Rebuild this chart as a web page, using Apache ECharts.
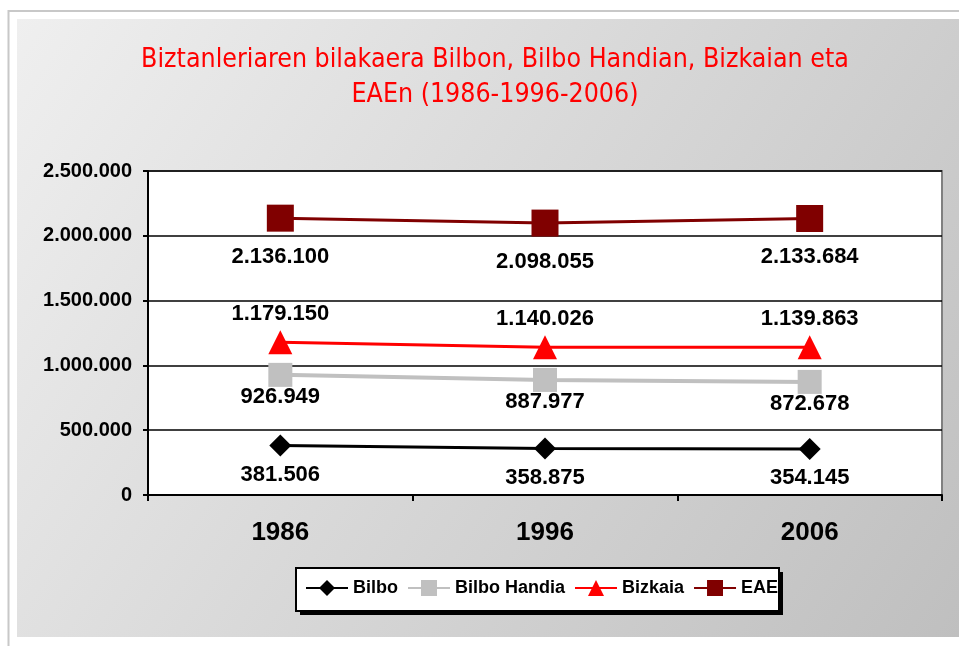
<!DOCTYPE html>
<html>
<head>
<meta charset="utf-8">
<script src="https://cdn.jsdelivr.net/npm/echarts@6/dist/echarts.min.js"></script>
<style>
	html, body { margin: 0; padding: 0; background: #fff; }
	#chart { width: 959px; height: 646px; }
</style>
</head>
<body>
<div id="chart"></div>
<script>
// datuak
var years = ['1986', '1996', '2006'];
var bilbo = [381506, 358875, 354145];
var bilboHandia = [926949, 887977, 872678];
var bizkaia = [1179150, 1140026, 1139863];
var eae = [2136100, 2098055, 2133684];
var seriesNames = ['Bilbo', 'Bilbo Handia', 'Bizkaia', 'EAE'];

function milaka(v) {
	return String(v).replace(/\B(?=(\d{3})+(?!\d))/g, '.');
}

var myChart = echarts.init(document.getElementById('chart'));

var labelBase = {
	show: true,
	color: '#000',
	fontFamily: 'Arial, "Liberation Sans", sans-serif',
	fontWeight: 'bold',
	fontSize: 22,
	formatter: function (p) { return milaka(p.value); }
};

function makeSeries(name, data, color, symbol, size, width, pos, dist) {
	return {
		name: name,
		type: 'line',
		data: data,
		symbol: symbol,
		symbolSize: size,
		lineStyle: { color: color, width: width },
		itemStyle: { color: color },
		label: Object.assign({}, labelBase, { position: pos, distance: dist }),
		animation: false
	};
}

var option = {
	backgroundColor: '#fff',
	graphic: [
		// kanpoko ertza
		{
			type: 'rect',
			z: -100,
			shape: { x: 8.5, y: 11, width: 960, height: 640 },
			style: { fill: '#fff', stroke: '#c8c8c8', lineWidth: 2 }
		},
		// atzeko gradientea
		{
			type: 'rect',
			z: -90,
			shape: { x: 17, y: 19, width: 942, height: 618 },
			style: {
				fill: new echarts.graphic.LinearGradient(0, 0, 1, 1, [
					{ offset: 0, color: '#efefef' },
					{ offset: 1, color: '#bfbfbf' }
				])
			}
		},
		// izenburua
		{
			type: 'text',
			x: 495,
			y: 43,
			style: {
				text: 'Biztanleriaren bilakaera Bilbon, Bilbo Handian, Bizkaian eta\nEAEn (1986-1996-2006)',
				align: 'center',
				fill: '#ff0000',
				font: '26.5px "Liberation Sans Narrow", "DejaVu Sans Condensed", sans-serif',
				lineHeight: 35
			}
		},
		// legendaren itzala eta kutxa
		{
			type: 'rect',
			z: 1,
			shape: { x: 300, y: 572, width: 483, height: 43 },
			style: { fill: '#000' }
		},
		{
			type: 'rect',
			z: 2,
			shape: { x: 296, y: 568, width: 483, height: 43 },
			style: { fill: '#fff', stroke: '#000', lineWidth: 2 }
		}
	],
	grid: {
		left: 148,
		top: 171,
		right: 17,
		bottom: 151,
		show: true,
		backgroundColor: '#fff',
		borderColor: '#808080',
		borderWidth: 2
	},
	legend: {
		data: seriesNames,
		left: 305,
		top: 579,
		orient: 'horizontal',
		padding: 0,
		itemWidth: 42,
		itemHeight: 20,
		itemGap: 9,
		textStyle: {
			color: '#000',
			fontFamily: 'Arial, "Liberation Sans", sans-serif',
			fontWeight: 'bold',
			fontSize: 18
		}
	},
	xAxis: {
		type: 'category',
		data: years,
		boundaryGap: true,
		axisLine: { lineStyle: { color: '#000', width: 2 } },
		axisTick: { show: true, length: 6, lineStyle: { color: '#000', width: 2 } },
		axisLabel: {
			color: '#000',
			fontFamily: 'Arial, "Liberation Sans", sans-serif',
			fontWeight: 'bold',
			fontSize: 26,
			margin: 25
		}
	},
	yAxis: {
		type: 'value',
		min: 0,
		max: 2500000,
		interval: 500000,
		axisLine: { show: true, lineStyle: { color: '#000', width: 2 } },
		axisTick: { show: true, length: 5, lineStyle: { color: '#000', width: 2 } },
		splitLine: { lineStyle: { color: '#000', width: 1.5 } },
		axisLabel: {
			color: '#000',
			fontFamily: 'Arial, "Liberation Sans", sans-serif',
			fontWeight: 'bold',
			fontSize: 20,
			margin: 16,
			formatter: milaka
		}
	},
	series: [
		makeSeries('Bilbo', bilbo, '#000000', 'diamond', 22, 3, 'bottom', 7),
		makeSeries('Bilbo Handia', bilboHandia, '#c0c0c0', 'rect', 24, 4, 'bottom', -1),
		makeSeries('Bizkaia', bizkaia, '#ff0000', 'triangle', 24, 3, 'top', 5),
		makeSeries('EAE', eae, '#800000', 'rect', 27, 3, 'bottom', 14)
	]
};

myChart.setOption(option);
</script>
</body>
</html>
